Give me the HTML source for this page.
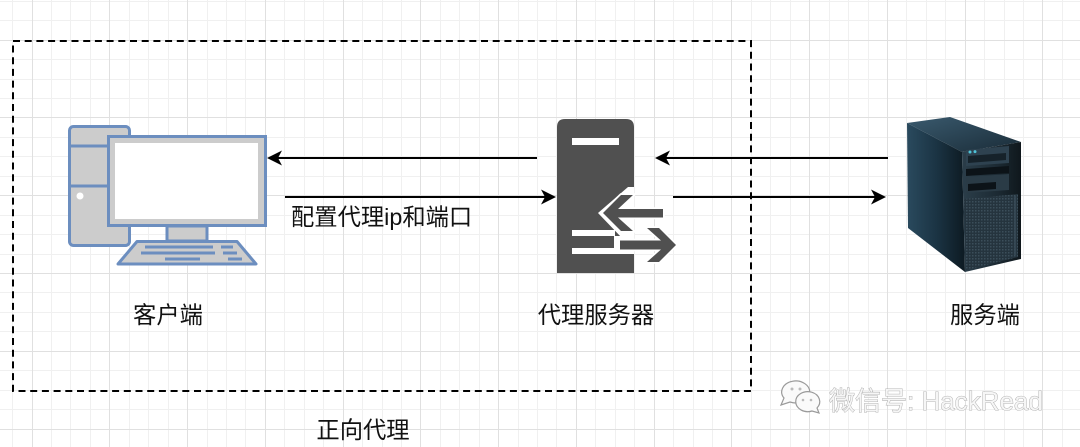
<!DOCTYPE html>
<html><head><meta charset="utf-8">
<style>
html,body{margin:0;padding:0;background:#fff;}
body{width:1080px;height:447px;overflow:hidden;}
svg{display:block;}
text{font-family:"Liberation Sans","Noto Sans CJK SC",sans-serif;}
</style></head>
<body>
<svg width="1080" height="447" viewBox="0 0 1080 447" xmlns="http://www.w3.org/2000/svg">
<defs>
<linearGradient id="side" x1="0" y1="0" x2="1" y2="0">
<stop offset="0" stop-color="#2a4a5e"/><stop offset="0.5" stop-color="#1b3444"/><stop offset="1" stop-color="#0d1a22"/>
</linearGradient>
<linearGradient id="top" x1="0" y1="0" x2="1" y2="1">
<stop offset="0" stop-color="#3a5a6e"/><stop offset="1" stop-color="#1a2c38"/>
</linearGradient>
<linearGradient id="front" x1="0" y1="0" x2="1" y2="0">
<stop offset="0" stop-color="#2b3e4a"/><stop offset="0.6" stop-color="#1c2a33"/><stop offset="1" stop-color="#0f171c"/>
</linearGradient>
<pattern id="mesh" width="3" height="3" patternUnits="userSpaceOnUse">
<rect width="3" height="3" fill="#25343e"/><rect width="1.5" height="1.5" fill="#3b4e5a"/>
</pattern>
</defs>
<rect width="1080" height="447" fill="#fff"/>
<!-- minor grid -->
<path stroke="#f0f0f0" stroke-width="1" fill="none" d="M12.5 0V447M51.5 0V447M70.5 0V447M90.5 0V447M129.5 0V447M148.5 0V447M168.5 0V447M207.5 0V447M226.5 0V447M245.5 0V447M284.5 0V447M304.5 0V447M323.5 0V447M362.5 0V447M382.5 0V447M401.5 0V447M440.5 0V447M459.5 0V447M479.5 0V447M518.5 0V447M537.5 0V447M556.5 0V447M595.5 0V447M615.5 0V447M634.5 0V447M673.5 0V447M693.5 0V447M712.5 0V447M751.5 0V447M770.5 0V447M790.5 0V447M829.5 0V447M848.5 0V447M868.5 0V447M906.5 0V447M926.5 0V447M945.5 0V447M984.5 0V447M1004.5 0V447M1023.5 0V447M1062.5 0V447
M0 1.5H1080M0 20.5H1080M0 59.5H1080M0 79.5H1080M0 98.5H1080M0 137.5H1080M0 156.5H1080M0 176.5H1080M0 215.5H1080M0 234.5H1080M0 254.5H1080M0 292.5H1080M0 312.5H1080M0 331.5H1080M0 370.5H1080M0 390.5H1080M0 409.5H1080"/>
<!-- major grid -->
<path stroke="#e0e0e0" stroke-width="1" fill="none" d="M32.5 0V447M109.5 0V447M187.5 0V447M265.5 0V447M343.5 0V447M420.5 0V447M498.5 0V447M576.5 0V447M654.5 0V447M731.5 0V447M809.5 0V447M887.5 0V447M965.5 0V447M1042.5 0V447
M0 40.5H1080M0 117.5H1080M0 195.5H1080M0 273.5H1080M0 351.5H1080M0 429.5H1080"/>

<!-- dashed box -->
<rect x="13" y="41" width="738" height="350" fill="none" stroke="#000" stroke-width="2" stroke-dasharray="7 4.7"/>

<!-- client computer -->
<g stroke="#6c8ebf" stroke-width="3">
<rect x="69.5" y="126.5" width="60" height="119" rx="4" fill="#cccccc"/>
<line x1="69.5" y1="146" x2="110" y2="146"/>
<line x1="69.5" y1="186" x2="110" y2="186"/>
<rect x="167" y="226" width="40" height="15" fill="#cccccc"/>
<polygon points="137,241.5 237,241.5 256,264 118,264" fill="#cccccc" stroke-linejoin="round"/>
<rect x="108.5" y="136.5" width="157" height="89" fill="#cccccc"/>
<line x1="145" y1="247" x2="213" y2="247"/><line x1="221" y1="247" x2="233" y2="247"/>
<line x1="141" y1="253" x2="215" y2="253"/><line x1="223" y1="253" x2="237" y2="253"/>
<line x1="165" y1="259" x2="200" y2="259"/><line x1="228" y1="259" x2="242" y2="259"/>
</g>
<circle cx="80" cy="196" r="3.5" fill="#fff"/>
<rect x="115" y="143" width="143" height="76" fill="#fff"/>

<!-- proxy server icon -->
<path d="M557 127 Q557 119 565 119 L626 119 Q634 119 634 127 L634 273 L557 273 Z" fill="#505050"/>
<rect x="572" y="138" width="47" height="7" fill="#fff"/>
<polygon points="634,187 628,187 598,213 622,238 634,238" fill="#fff"/>
<rect x="572" y="230" width="43" height="6" fill="#fff"/>
<rect x="572" y="248" width="48" height="6" fill="#fff"/>
<rect x="614" y="236" width="20" height="18" fill="#fff"/>
<g fill="#505050" stroke="#fff" stroke-width="3.5" paint-order="stroke" stroke-linejoin="miter">
<polygon points="603,213 621,195 633,195 618,209 663,209 663,217.5 618,217.5 633,231 621,231"/>
<polygon points="620,240.5 661,240.5 647,228 659,228 676,245 659,262 647,262 661,249.5 620,249.5"/>
</g>

<!-- backend server tower -->
<polygon points="907,123 950,117 1021,142 962,152" fill="url(#top)"/>
<polygon points="907,123 962,152 965,272 908,228" fill="url(#side)"/>
<polygon points="962,152 1021,142 1021,259 965,272" fill="url(#front)"/>
<polygon points="964,199 1018,194 1018,257 966,270" fill="url(#mesh)"/>
<polygon points="966,150 1009,146 1009,163 966,166" fill="#2e4250"/>
<polygon points="968,156 1006,153 1006,160 968,163" fill="#16222a"/>
<circle cx="970" cy="152" r="1.5" fill="#4fc3d8"/><circle cx="975" cy="151.6" r="1.5" fill="#4fc3d8"/>
<polygon points="966,169 1009,166 1009,173 966,176" fill="#0c1318"/>
<polygon points="966,177 1009,174 1009,190 966,193" fill="#2a3b46"/>
<polygon points="968,184 996,182 996,189 968,191" fill="#0c1318"/>
<line x1="1015" y1="196" x2="1015" y2="255" stroke="#3a4c58" stroke-width="1.5"/>

<!-- arrows -->
<g stroke="#000" stroke-width="2">
<line x1="537" y1="158" x2="275" y2="158"/>
<line x1="285" y1="197" x2="548" y2="197"/>
<line x1="888" y1="158" x2="663" y2="158"/>
<line x1="673" y1="197" x2="878" y2="197"/>
</g>
<g fill="#000">
<polygon points="267,158 282,150.5 278,158 282,165.5"/>
<polygon points="556,197 541,189.5 545,197 541,204.5"/>
<polygon points="655,158 670,150.5 666,158 670,165.5"/>
<polygon points="886,197 871,189.5 875,197 871,204.5"/>
</g>

<!-- labels -->
<g font-size="23.3" fill="#111">
<text x="168" y="323" text-anchor="middle">客户端</text>
<text x="596" y="323" text-anchor="middle">代理服务器</text>
<text x="985" y="323" text-anchor="middle">服务端</text>
<text x="363" y="438" text-anchor="middle">正向代理</text>
<text x="291" y="225">配置代理ip和端口</text>
</g>

<!-- watermark -->
<g stroke="#9a9a9a" stroke-width="1.2" fill="#fafafa">
<path d="M781 405 L784 398 A14 11 0 1 1 790 402 Z"/>
<path d="M819 413 L817 408 A12 10 0 1 0 812 411 Z"/>
</g>
<g fill="#bbb">
<circle cx="792" cy="389" r="1.5"/><circle cx="800" cy="389" r="1.5"/>
<circle cx="803" cy="400" r="1.3"/><circle cx="811" cy="400" r="1.3"/>
</g>
<text x="829" y="410" font-size="26" fill="#f6f6f6" stroke="#a0a0a0" stroke-width="0.8" style="paint-order:stroke">微信号: HackRead</text>
</svg>
</body></html>
